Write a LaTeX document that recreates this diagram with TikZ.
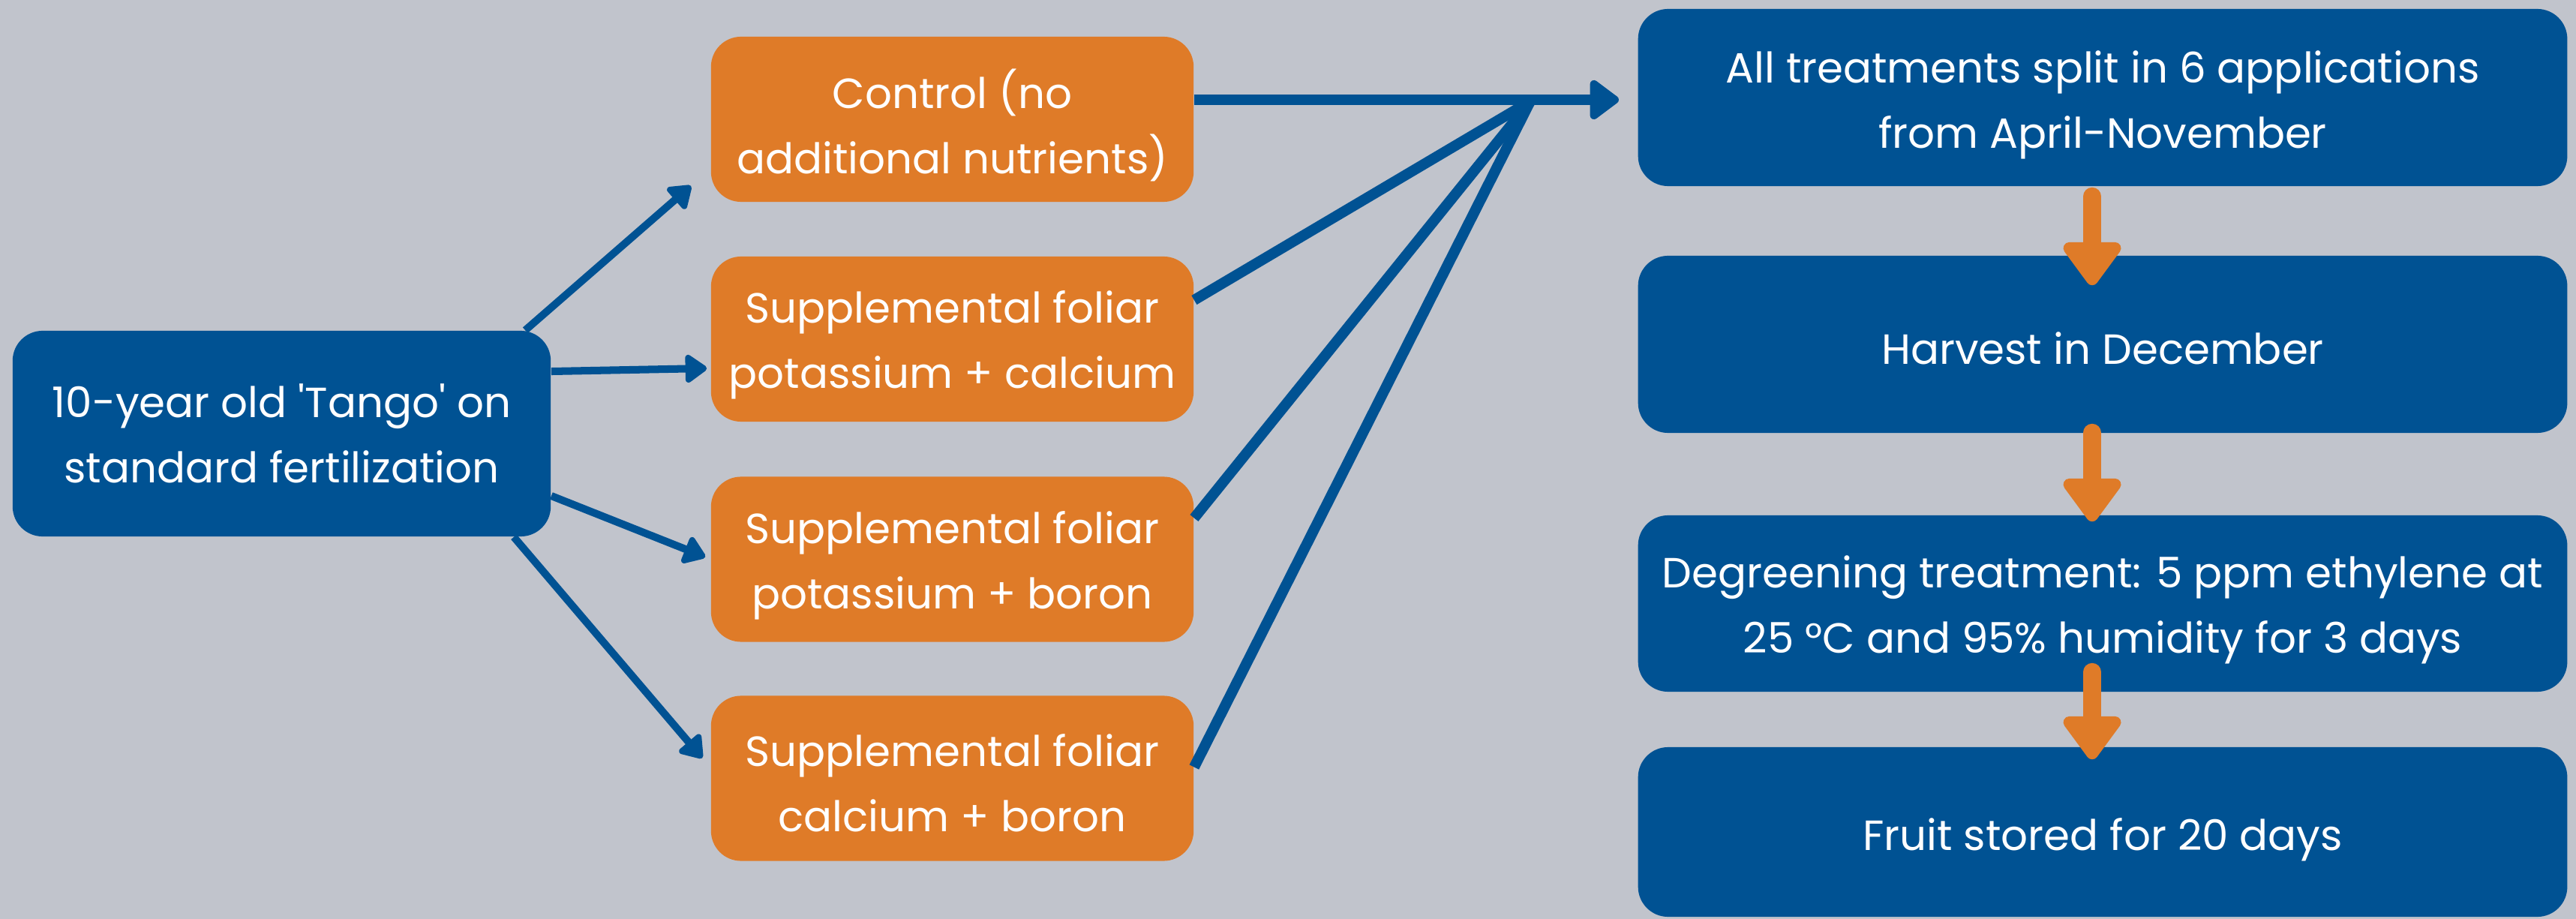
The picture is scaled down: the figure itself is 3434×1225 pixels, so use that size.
\documentclass[tikz,border=0pt]{standalone}
\usepackage{fontspec}
\setmainfont{Poppins}
\usetikzlibrary{arrows.meta,calc}
\definecolor{bg}{HTML}{C1C4CC}
\definecolor{navy}{HTML}{005293}
\definecolor{ora}{HTML}{DF7B28}
\begin{document}
\begin{tikzpicture}[x=0.01cm,y=-0.01cm,
  box/.style={rounded corners=0.4cm, inner sep=0pt, align=center, text=white, font=\fontsize{16}{24.8}\selectfont},
  boxtext/.style={inner sep=0pt, align=center, text=white, font=\fontsize{16}{24.8}\selectfont},
  srcbox/.style={box, fill=navy, minimum width=7.17cm, minimum height=2.74cm},
  trtbox/.style={box, fill=ora, minimum width=6.43cm, minimum height=2.2cm},
  stepbox/.style={box, fill=navy, minimum width=12.38cm},
  thinarrow/.style={navy, line width=2.85pt, -{Triangle[length=9pt,width=12pt,round]}},
  joinline/.style={navy, line width=4pt},
  flow/.style={ora, line width=6.8pt, line cap=round, -{Triangle[length=18pt,width=25pt,round]}}
]
\fill[bg] (0,0) rectangle (3434,1225);
\useasboundingbox (0,0) rectangle (3434,1225);

\node[srcbox] (src) at (375.5,578) {10-year old \textquotesingle Tango\textquotesingle{} on\\standard fertilization};

\node[trtbox] (c1) at (1269.5,159) {};
\node[trtbox] (c2) at (1269.5,452) {};
\node[trtbox] (c3) at (1269.5,745.5) {};
\node[trtbox] (c4) at (1269.5,1037.5) {};
\node[boxtext] (t1) at ($(c1.center)+(0,8)$) {Control (no\\additional nutrients)};
\node[boxtext] (t2) at ($(c2.center)+(0,8)$) {Supplemental foliar\\potassium + calcium};
\node[boxtext] (t3) at ($(c3.center)+(0,8)$) {Supplemental foliar\\potassium + boron};
\node[boxtext] (t4) at ($(c4.center)+(0,6)$) {Supplemental foliar\\calcium + boron};

\node[stepbox, minimum height=2.36cm] (b1) at (2803,130) {};
\node[stepbox, minimum height=2.36cm] (b2) at (2803,459) {};
\node[stepbox, minimum height=2.35cm] (b3) at (2803,804.5) {};
\node[stepbox, minimum height=2.26cm] (b4) at (2803,1109) {};
\node[boxtext] (s1) at ($(b1.center)+(0,10)$) {All treatments split in 6 applications\\from April-November};
\node[boxtext] (s2) at ($(b2.center)+(0,5)$) {Harvest in December};
\node[boxtext] (s3) at ($(b3.center)+(0,8)$) {Degreening treatment: 5 ppm ethylene at\\25 °C and 95\% humidity for 3 days};
\node[boxtext] (s4) at ($(b4.center)+(0,10)$) {Fruit stored for 20 days};

\draw[thinarrow] (src.23.2) -- ($(c1.south west)+(-26,-22)$);
\draw[thinarrow] (src.13.6) -- ($(c2.west)+(-5,39)$);
\draw[thinarrow] (src.-13.2) -- ($(c3.west)+(-7,-3)$);
\draw[thinarrow] (src.-24.2) -- ($(c4.west)+(-11,-27)$);

\coordinate (j) at (2040,135);
\draw[joinline] ($(c2.east)+(0,-52)$) -- (j);
\draw[joinline] ($(c3.east)+(0,-55)$) -- (j);
\draw[joinline] ($(c4.east)+(0,-15)$) -- (j);
\draw[joinline, -{Triangle[length=12pt,width=17pt,round]}] ($(c1.east)+(0,-26)$) -- ($(b1.west)+(-25,3)$);

\draw[flow] ($(b1.south)+(-14,13)$) -- ($(b2.north)+(-14,40)$);
\draw[flow] ($(b2.south)+(-14,-1)$) -- ($(b3.north)+(-14,9)$);
\draw[flow] ($(b3.south)+(-14,-27)$) -- ($(b4.north)+(-14,17)$);
\end{tikzpicture}
\end{document}
